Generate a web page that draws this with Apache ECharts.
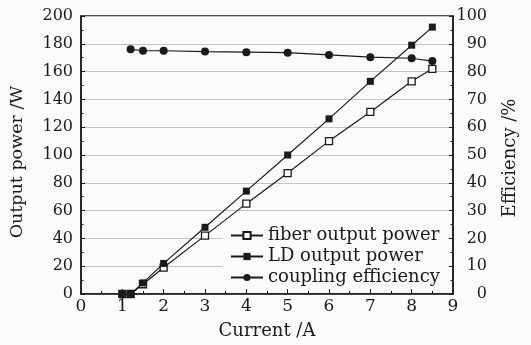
<!DOCTYPE html>
<html>
<head>
<meta charset="utf-8">
<script src="https://cdn.jsdelivr.net/npm/echarts@6/dist/echarts.min.js"></script>
<style>
  html, body { margin: 0; padding: 0; background: #fbfbfb; }
  #chart { width: 531px; height: 345px; }
</style>
</head>
<body>
<div id="chart"></div>
<script>
// current (A) for the power curves
const currents = [1, 1.2, 1.5, 2, 3, 4, 5, 6, 7, 8, 8.5];
const fiberPower = [0, 0, 7, 19, 42, 65, 87, 110, 131, 153, 162];
const ldPower = [0, 0, 8, 22, 48, 74, 100, 126, 153, 179, 192];

// coupling efficiency (%)
const effCurrents = [1.2, 1.5, 2, 3, 4, 5, 6, 7, 8, 8.5];
const efficiency = [88, 87.5, 87.5, 87.2, 87, 86.8, 86, 85.2, 84.8, 83.8];

const seriesNames = ['fiber output power', 'LD output power', 'coupling efficiency'];

const font = 'DejaVu Serif';
const ink = '#1a1a1a';

const pairs = (xs, ys) => xs.map((x, i) => [x, ys[i]]);

const chart = echarts.init(document.getElementById('chart'));

const option = {
  backgroundColor: '#fbfbfb',
  animation: false,
  grid: {
    left: 81, right: 78, top: 16, bottom: 49,
    show: true,
    borderColor: ink,
    borderWidth: 1.5,
    backgroundColor: 'transparent'
  },
  legend: {
    data: seriesNames,
    orient: 'vertical',
    left: 223,
    top: 224,
    padding: [1, 8, 1, 7],
    itemGap: 0,
    itemWidth: 32,
    itemHeight: 9,
    backgroundColor: '#fbfbfb',
    textStyle: { fontFamily: font, fontSize: 18, color: ink, lineHeight: 21 }
  },
  xAxis: {
    type: 'value',
    min: 0, max: 9, interval: 1,
    name: 'Current /A',
    nameLocation: 'middle',
    nameGap: 28,
    nameTextStyle: { fontFamily: font, fontSize: 18, color: ink },
    axisLine: { lineStyle: { color: ink, width: 1.5 } },
    axisTick: { inside: true, length: 5, lineStyle: { color: ink } },
    minorTick: { show: true, splitNumber: 2, length: 3, lineStyle: { color: ink } },
    splitLine: { show: false },
    axisLabel: { fontFamily: font, fontSize: 17, color: ink, margin: 4 }
  },
  yAxis: [
    {
      type: 'value',
      min: 0, max: 200, interval: 20,
      name: 'Output power /W',
      nameLocation: 'middle',
      nameRotate: 90,
      nameGap: 55,
      nameTextStyle: { fontFamily: font, fontSize: 17.5, color: ink, padding: [0, 14, 0, 0] },
      axisLine: { show: true, lineStyle: { color: ink, width: 1.5 } },
      axisTick: { inside: true, length: 4, lineStyle: { color: ink } },
      minorTick: { show: true, splitNumber: 2, length: 2.5, lineStyle: { color: ink } },
      splitLine: { show: true, lineStyle: { color: '#c4c4c4', width: 1 } },
      axisLabel: { fontFamily: font, fontSize: 16, color: ink, margin: 8 }
    },
    {
      type: 'value',
      min: 0, max: 100, interval: 10,
      position: 'right',
      name: 'Efficiency /%',
      nameLocation: 'middle',
      nameRotate: 90,
      nameGap: 48,
      nameTextStyle: { fontFamily: font, fontSize: 18, color: ink, padding: [0, 6, 0, 0] },
      axisLine: { show: true, lineStyle: { color: ink, width: 1.5 } },
      axisTick: { inside: true, length: 4, lineStyle: { color: ink } },
      minorTick: { show: true, splitNumber: 2, length: 2.5, lineStyle: { color: ink } },
      splitLine: { show: false },
      axisLabel: { fontFamily: font, fontSize: 16, color: ink, margin: 34, align: 'right' }
    }
  ],
  series: [
    {
      name: seriesNames[0],
      type: 'line',
      yAxisIndex: 0,
      data: pairs(currents, fiberPower),
      symbol: 'rect',
      symbolSize: 7,
      lineStyle: { color: ink, width: 1.2 },
      itemStyle: { color: '#ffffff', borderColor: ink, borderWidth: 1.3 }
    },
    {
      name: seriesNames[1],
      type: 'line',
      yAxisIndex: 0,
      data: pairs(currents, ldPower),
      symbol: 'rect',
      symbolSize: 7,
      lineStyle: { color: ink, width: 1.2 },
      itemStyle: { color: ink, borderColor: ink, borderWidth: 0 }
    },
    {
      name: seriesNames[2],
      type: 'line',
      yAxisIndex: 1,
      data: pairs(effCurrents, efficiency),
      symbol: 'circle',
      symbolSize: 8,
      lineStyle: { color: ink, width: 1.2 },
      itemStyle: { color: ink, borderColor: ink, borderWidth: 0 }
    }
  ]
};

chart.setOption(option);
</script>
</body>
</html>
